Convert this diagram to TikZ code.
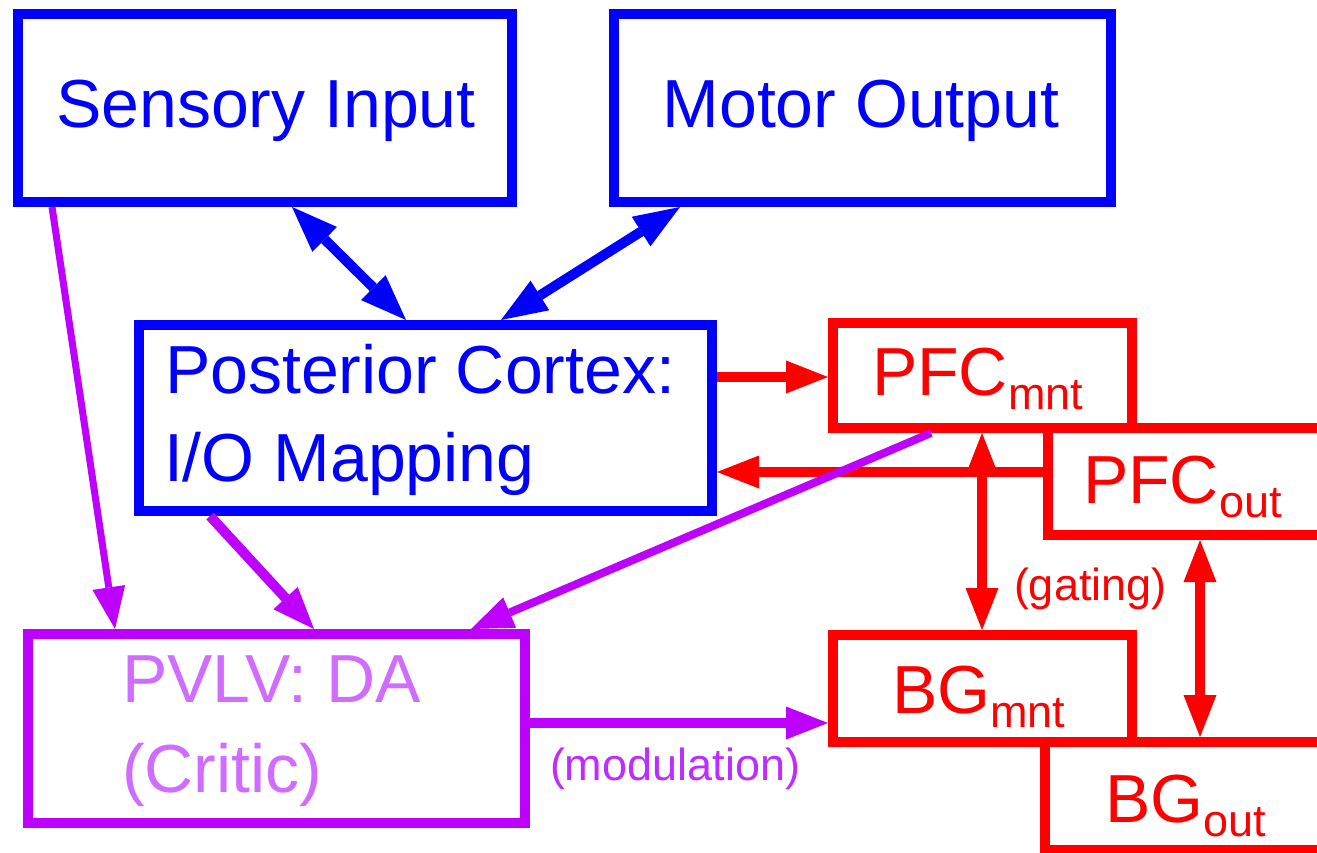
\documentclass[tikz,border=0pt]{standalone}
\usepackage{fontspec}
\setmainfont{Liberation Sans}
\usetikzlibrary{arrows.meta}
\definecolor{bl}{RGB}{0,0,255}
\definecolor{rd}{RGB}{255,0,0}
\definecolor{pl}{RGB}{190,0,255}
\definecolor{pltext}{RGB}{208,108,255}
\definecolor{modtext}{RGB}{190,45,255}
\newcommand{\subtxt}[1]{{\fontsize{45}{45}\selectfont\raisebox{-14pt}{#1}}}
\begin{document}
\begin{tikzpicture}[x=1pt,y=-1pt,
  >={Triangle[length=42pt,width=33pt,line width=0pt]},
  bigtip/.style={>={Triangle[length=46pt,width=35pt,line width=0pt]}},
  box/.style={draw=#1, line width=10pt, inner sep=0pt, outer sep=5pt},
  big/.style={font=\fontsize{68}{88}\selectfont, inner sep=0pt, outer sep=0pt},
  lab/.style={font=\fontsize{45}{50}\selectfont, inner sep=0pt, outer sep=0pt},
  conn/.style={draw=#1, line width=10pt}]
\useasboundingbox (0,0) rectangle (1317,852);
\clip (0,0) rectangle (1317,852);

% helper coordinates
\coordinate (xa) at (292,0);
\coordinate (xb) at (406,0);
\coordinate (xc) at (680,0);
\coordinate (xd) at (501,0);
\coordinate (xe) at (52,0);
\coordinate (xf) at (115,0);
\coordinate (xg) at (210,0);
\coordinate (xh) at (314,0);
\coordinate (xi) at (931,0);
\coordinate (xj) at (471,0);
\coordinate (xk) at (982,0);
\coordinate (xl) at (1200,0);
\coordinate (ya) at (0,377);
\coordinate (yb) at (0,472);
\coordinate (yc) at (0,723);

% boxes
\node[box=bl, minimum width=494pt, minimum height=188pt] (sens) at (265,108) {};
\node[box=bl, minimum width=497pt, minimum height=188pt] (motor) at (862.5,108) {};
\node[box=bl, minimum width=573pt, minimum height=186pt] (post) at (425.5,418) {};
\node[box=rd, minimum width=292pt, minimum height=107pt] (pfco) at (1194,481.5) {};
\node[box=rd, minimum width=299pt, minimum height=105pt] (pfcm) at (982.5,375.5) {};
\node[box=pl, minimum width=497pt, minimum height=189pt] (pvlv) at (276.5,728.5) {};
\node[box=rd, minimum width=295pt, minimum height=108pt] (bgo) at (1192.5,796) {};
\node[box=rd, minimum width=299pt, minimum height=107pt] (bgm) at (982.5,688.5) {};

% texts
\node[big, text=bl, anchor=base] (sensT) at (266,127) {Sensory Input};
\node[big, text=bl, anchor=base] (motorT) at (861,127) {Motor Output};
\node[big, text=bl, anchor=base west] (postT1) at (165,393) {Posterior Cortex:};
\node[big, text=bl, anchor=base west] (postT2) at (164,481) {I/O Mapping};
\node[big, text=rd, anchor=base west] (pfcmT) at (872,395) {PFC\subtxt{mnt}};
\node[big, text=rd, anchor=base west] (pfcoT) at (1083,503) {PFC\subtxt{out}};
\node[big, text=pltext, anchor=base west] (pvlvT1) at (122,702) {PVLV: DA};
\node[big, text=pltext, anchor=base west] (pvlvT2) at (122,792) {(Critic)};
\node[big, text=rd, anchor=base west] (bgmT) at (892,713) {BG\subtxt{mnt}};
\node[big, text=rd, anchor=base west] (bgoT) at (1105,822) {BG\subtxt{out}};
\node[lab, text=rd, anchor=base west] (gat) at (1014,600) {(gating)};
\node[lab, text=modtext, anchor=base west] (mod) at (550,780) {(modulation)};

% connectors
\draw[conn=bl, bigtip, <->] (sens.south -| xa) -- (post.north -| xb);
\draw[conn=bl, bigtip, <->] (motor.south -| xc) -- (post.north -| xd);
\draw[conn=rd, ->] (post.east |- ya) -- (pfcm.west |- ya);
\draw[conn=rd, ->] (pfco.west |- yb) -- (post.east |- yb);
\draw[conn=rd, <->] (pfcm.south -| xk) -- (bgm.north -| xk);
\draw[conn=rd, <->] (pfco.south -| xl) -- (bgo.north -| xl);
\draw[conn=pl, line width=7pt, ->] (sens.south -| xe) -- (pvlv.north -| xf);
\draw[conn=pl, ->] (post.south -| xg) -- (pvlv.north -| xh);
\draw[conn=pl, line width=8pt, ->] (pfcm.south -| xi) -- (pvlv.north -| xj);
\draw[conn=pl, ->] (pvlv.east |- yc) -- (bgm.west |- yc);
\end{tikzpicture}
\end{document}
